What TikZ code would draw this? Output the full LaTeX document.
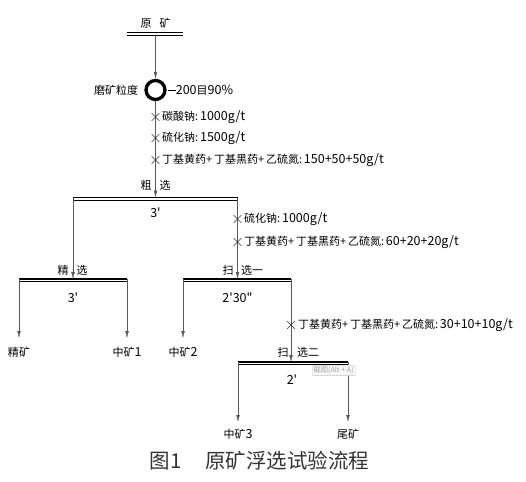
\documentclass[tikz,border=0pt]{standalone}
\usepackage{fontspec}
\newfontfamily\cad{Noto Sans CJK SC}
\newcommand\nm[1]{{\fontsize{12.5}{12}\selectfont #1}}
\usetikzlibrary{arrows.meta, positioning, shapes.misc}

\begin{document}
\begin{tikzpicture}[x=1pt, y=-1pt,
    lbl/.style={font=\cad\fontsize{11}{12}\selectfont, inner sep=1pt},
    flow/.style={draw=black!65, -{Latex[length=7pt, width=3.6pt]}},
    bar/.style={line width=1.8pt},
    dose/.style={cross out, draw=black!80, line width=0.6pt, minimum size=7pt, inner sep=0pt},
    ]
    \useasboundingbox (0,0) rectangle (526,481);

    % Raw ore
    \coordinate (rawL) at (127,32);
    \coordinate (rawR) at (183,32);
    \coordinate (raw) at (155.5,35);
    \draw (rawL) -- (rawR);
    \draw ([yshift=-3pt]rawL) -- ([yshift=-3pt]rawR);
    \node[lbl] (rawtxt) at (155.5,23) {原\hspace{8pt}矿};

    % Grinding
    \node[circle, draw, line width=3.3pt, minimum size=19pt, inner sep=0pt] (mill) at (155.5,90) {};
    \node[lbl, left=5pt of mill] (grind) {磨矿粒度};
    \node[lbl, right=0pt of mill] (mesh) {\rule[3.6pt]{8pt}{0.7pt}\nm{200}目\nm{90\%}};
    \draw[flow] (raw) -- (mill);

    % Rougher
    \coordinate (rgL) at (73,197.5);
    \coordinate (rgR) at (237.5,197.5);
    \coordinate (rg) at (155.5,197.5);
    \draw[bar] (rgL) -- (rgR);
    \draw ([yshift=-2.5pt]rgL) -- ([yshift=-2.5pt]rgR);
    \draw[flow] (mill) -- (rg);
    \node[lbl] (rgA) at (146,185) {粗};
    \node[lbl] (rgB) at (165,185) {选};
    \node[lbl] (rgT) at (155.5,213) {\nm{3'}};

    % Reagents to rougher
    \foreach \y/\txt [count=\i] in {117/{碳酸钠:\,\nm{1000g/t}}, 138/{硫化钠:\,\nm{1500g/t}},
        160/{丁基黄药+\,丁基黑药+\,乙硫氮:\,\nm{150+50+50g/t}}} {
      \node[dose] (rd\i) at (155.5,\y) {};
      \node[lbl, anchor=west] at (161,\y) {\txt};
    }

    % Cleaner
    \coordinate (jxL) at (19,279);
    \coordinate (jxR) at (127,279);
    \coordinate (jx) at (73,279);
    \draw[bar] (jxL) -- (jxR);
    \draw ([yshift=-2.5pt]jxL) -- ([yshift=-2.5pt]jxR);
    \draw[flow] (rgL) -- (jx);
    \node[lbl] (jxA) at (63,270) {精};
    \node[lbl] (jxB) at (82,270) {选};
    \node[lbl] (jxT) at (73,298) {\nm{3'}};

    % Scavenger 1
    \coordinate (s1L) at (183,279);
    \coordinate (s1R) at (291,279);
    \coordinate (s1) at (237.5,279);
    \draw[bar] (s1L) -- (s1R);
    \draw ([yshift=-2.5pt]s1L) -- ([yshift=-2.5pt]s1R);
    \draw[flow] (rgR) -- (s1);
    \node[lbl] (s1A) at (228,270) {扫};
    \node[lbl] (s1B) at (252,270) {选一};
    \node[lbl] (s1T) at (237.5,298) {\nm{2'30"}};

    % Reagents to scavenger 1
    \foreach \y/\txt [count=\i] in {219/{硫化钠:\,\nm{1000g/t}},
        242/{丁基黄药+\,丁基黑药+\,乙硫氮:\,\nm{60+20+20g/t}}} {
      \node[dose] (sd\i) at (237.5,\y) {};
      \node[lbl, anchor=west] at (243,\y) {\txt};
    }

    % Scavenger 2
    \coordinate (s2L) at (238,362);
    \coordinate (s2R) at (348,362);
    \coordinate (s2) at (291,362);
    \draw[bar] (s2L) -- (s2R);
    \draw ([yshift=-2.5pt]s2L) -- ([yshift=-2.5pt]s2R);
    \draw[flow] (s1R) -- (s2);
    \node[lbl] (s2A) at (283,352) {扫};
    \node[lbl] (s2B) at (308,352) {选二};
    \node[lbl] (s2T) at (292,380) {\nm{2'}};
    \node[dose] (td) at (291,325) {};
    \node[lbl, anchor=west] at (297,325) {丁基黄药+\,丁基黑药+\,乙硫氮:\,\nm{30+10+10g/t}};

    % Products
    \coordinate (p1) at (19,338);
    \coordinate (p2) at (127,338);
    \coordinate (p3) at (183,338);
    \coordinate (p4) at (238,422);
    \coordinate (p5) at (348,422);
    \draw[flow] (jxL) -- (p1);
    \draw[flow] (jxR) -- (p2);
    \draw[flow] (s1L) -- (p3);
    \draw[flow] (s2L) -- (p4);
    \draw[flow] (s2R) -- (p5);
    \node[lbl, below=8pt of p1] (conc) {精矿};
    \node[lbl, below=8pt of p2] (mid1) {中矿\nm{1}};
    \node[lbl, below=8pt of p3] (mid2) {中矿\nm{2}};
    \node[lbl, below=6pt of p4] (mid3) {中矿\nm{3}};
    \node[lbl, below=6pt of p5] (tail) {尾矿};

    % Screenshot tip
    \node[draw=gray!45, fill=gray!6, rounded corners=1pt, font=\cad\fontsize{7.2}{8}\selectfont,
      text=gray!70, inner sep=1.5pt, anchor=north west] (tip) at (312,365) {截图(Alt + A)};

    % Caption
    \node[font=\cad\fontsize{20.5}{24}\selectfont, text=black!80] (cap) at (259.5,461)
      {图1\hspace{24pt}原矿浮选试验流程};
\end{tikzpicture}
\end{document}
